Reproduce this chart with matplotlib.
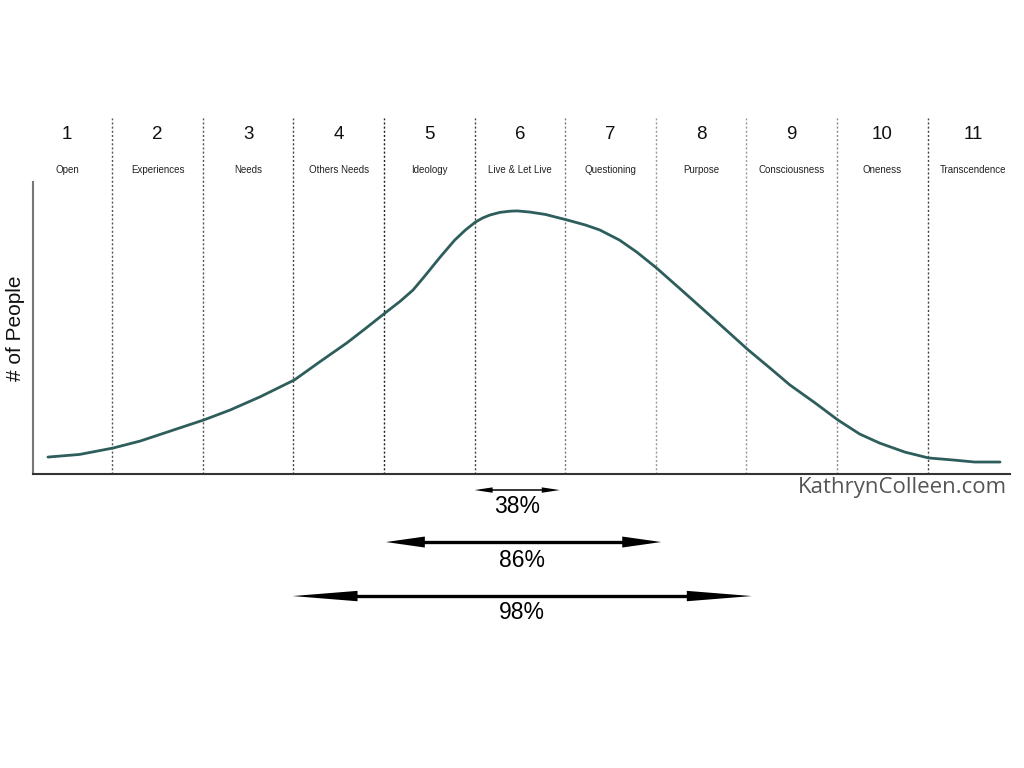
import matplotlib
matplotlib.use("Agg")
import matplotlib.pyplot as plt

plt.rcParams['font.family'] = ['Liberation Sans', 'DejaVu Sans']

# ---- data ----
stage_numbers = ["1", "2", "3", "4", "5", "6", "7", "8", "9", "10", "11"]
stage_names = ["Open", "Experiences", "Needs", "Others Needs", "Ideology",
               "Live & Let Live", "Questioning", "Purpose", "Consciousness",
               "Oneness", "Transcendence"]
curve_x = [0.79, 1.14, 1.51, 1.81, 2.14, 2.51, 2.80, 3.13, 3.51, 3.79, 4.09,
           4.29, 4.51, 4.68, 4.82, 4.95, 5.12, 5.28, 5.40, 5.51, 5.59, 5.67,
           5.78, 5.89, 5.97, 6.11, 6.28, 6.52, 6.72, 6.88, 7.10, 7.29, 7.51,
           7.82, 8.13, 8.52, 8.76, 8.98, 9.26, 9.51, 9.75, 9.97, 10.25, 10.51,
           10.78, 11.02, 11.30]
curve_y = [5.8, 6.7, 8.9, 11.3, 14.7, 18.5, 21.9, 26.4, 32.2, 38.4, 44.9,
           49.7, 55.1, 59.2, 63.0, 67.8, 74.3, 80.1, 83.6, 86.3, 87.7, 88.7,
           89.6, 90.0, 90.1, 89.7, 88.9, 87.0, 85.3, 83.6, 80.1, 76.0, 70.5,
           62.0, 53.4, 42.5, 36.3, 30.5, 24.3, 18.5, 13.7, 10.6, 7.5, 5.5,
           4.8, 4.1, 4.1]
range_labels = ["38%", "86%", "98%"]
range_start = [5.50, 4.52, 3.49]
range_end = [6.44, 7.56, 8.56]
divider_colors = ["#555555", "#555555", "#444444", "#222222", "#444444",
                  "#777777", "#999999", "#999999", "#888888", "#444444"]

W, H, DPI = 10.24, 7.68, 100
fig = plt.figure(figsize=(W, H), dpi=DPI)
ax_rect = [33/1024, 1-474/768, (1010-33)/1024, (474-182)/768]
ax = fig.add_axes(ax_rect)
xlim = (0.625, 11.41)
ax.set_xlim(*xlim)
ax.set_ylim(0, 100)

ax.plot(curve_x, curve_y, color="#2d5e5c", lw=2.0,
        solid_capstyle="round", solid_joinstyle="round")

# dividers
for i, c in enumerate(divider_colors):
    ax.axvline(i + 1.5, ymin=0, ymax=1.219, color=c, lw=1.0,
               linestyle=(0, (1.5, 1.5)), clip_on=False, zorder=1)

# stage labels
trans = ax.get_xaxis_transform()
for i, (n, name) in enumerate(zip(stage_numbers, stage_names)):
    ax.text(i + 1, 1.161, n, transform=trans,
            ha="center", va="center", fontsize=13.5, color="#111111")
    ax.text(i + 1, 1.041, name, transform=trans,
            ha="center", va="center", fontsize=7, color="#222222")

# axes styling
for s in ["top", "right"]:
    ax.spines[s].set_visible(False)
ax.spines["left"].set_color("#777777")
ax.spines["left"].set_linewidth(1.5)
ax.spines["bottom"].set_color("#333333")
ax.spines["bottom"].set_linewidth(1.5)
ax.set_xticks([])
ax.set_yticks([])
fig.text(16/1024, 1-328/768, "# of People", rotation=90, ha="center",
         va="center", fontsize=15, color="#111111")

# range arrows (heads sized in pixels)
ax_w_px = ax_rect[2] * W * DPI
ax_h_px = ax_rect[3] * H * DPI
px_per_x = ax_w_px / (xlim[1] - xlim[0])
arrow_y = [-0.055, -0.233, -0.418]
label_y = [-0.113, -0.297, -0.475]
label_x = [5.97, 6.02, 6.02]
head_len_px = [18, 39, 65]
head_half_px = [2.7, 5.5, 5.2]
shaft_lw = [1.1, 2.4, 2.4]
for lab, x0, x1, ay, lx, ly, hl, hh, lw in zip(range_labels, range_start,
                                                range_end, arrow_y, label_x,
                                                label_y, head_len_px,
                                                head_half_px, shaft_lw):
    hlx = hl / px_per_x
    hhy = hh / ax_h_px
    ax.plot([x0 + hlx * 0.8, x1 - hlx * 0.8], [ay, ay], color="black", lw=lw,
            transform=trans, clip_on=False, solid_capstyle="butt")
    ax.fill([x0, x0 + hlx, x0 + hlx], [ay, ay + hhy, ay - hhy],
            color="black", transform=trans, clip_on=False, lw=0)
    ax.fill([x1, x1 - hlx, x1 - hlx], [ay, ay + hhy, ay - hhy],
            color="black", transform=trans, clip_on=False, lw=0)
    ax.text(lx, ly, lab, transform=trans, ha="center", va="center",
            fontsize=16.5, color="black")

fig.text(902/1024, 1-488/768, "KathrynColleen.com", ha="center", va="center",
         fontsize=16, color="#555555",
         family=["Open Sans", "DejaVu Sans"])

fig.savefig("out.png", dpi=DPI)
